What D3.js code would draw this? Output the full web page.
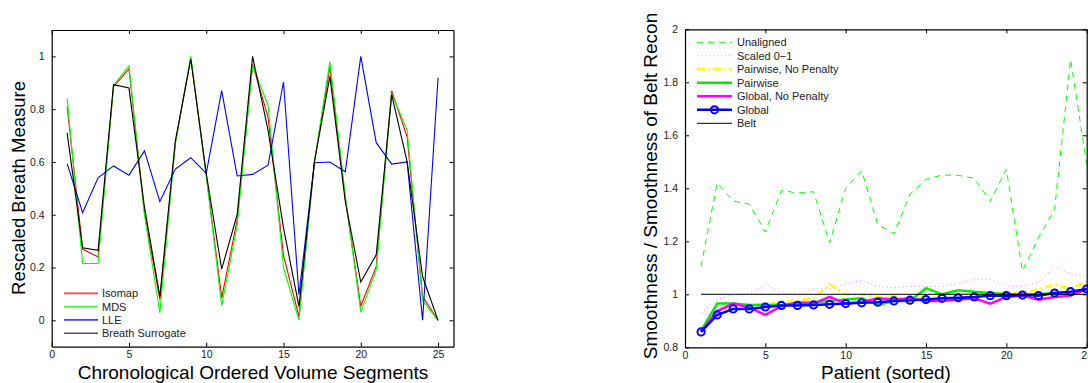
<!DOCTYPE html>
<html>
<head>
<meta charset="utf-8">
<script src="https://cdn.jsdelivr.net/npm/d3@7/dist/d3.min.js"></script>
<style>
  body { margin: 0; background: #fff; }
  svg { display: block; font-family: "Liberation Sans", Arial, sans-serif; }
</style>
</head>
<body>
<div id="chart"></div>
<script>
// Left panel: rescaled breath measure per volume segment
var segments = d3.range(1, 26);
var isomap = [0.81, 0.27, 0.24, 0.885, 0.953, 0.41, 0.078, 0.67, 0.995, 0.55, 0.085, 0.38, 0.97,
              0.77, 0.245, 0.015, 0.6, 0.96, 0.46, 0.053, 0.204, 0.87, 0.695, 0.09, 0.0];
var mds = [0.84, 0.215, 0.215, 0.89, 0.965, 0.40, 0.028, 0.67, 1.0, 0.55, 0.055, 0.36, 0.965,
           0.815, 0.2, 0.0, 0.6, 0.98, 0.47, 0.031, 0.19, 0.86, 0.72, 0.075, 0.0];
var lle = [0.594, 0.408, 0.54, 0.585, 0.55, 0.642, 0.45, 0.573, 0.616, 0.557, 0.87, 0.547, 0.553,
           0.588, 0.903, 0.097, 0.597, 0.6, 0.563, 1.0, 0.673, 0.592, 0.6, 0.0, 0.919];
var surrogate = [0.71, 0.275, 0.265, 0.893, 0.88, 0.43, 0.09, 0.68, 0.99, 0.557, 0.194, 0.40, 1.0,
                 0.72, 0.35, 0.053, 0.6, 0.924, 0.45, 0.145, 0.248, 0.855, 0.6, 0.166, 0.0];

// Right panel: smoothness ratio per patient
var patients = d3.range(1, 26);
var unaligned = [1.105, 1.42, 1.352, 1.34, 1.235, 1.392, 1.382, 1.387, 1.194, 1.40, 1.466, 1.263, 1.228,
                 1.377, 1.434, 1.45, 1.449, 1.438, 1.352, 1.472, 1.088, 1.213, 1.32, 1.886, 1.49];
var scaled01 = [0.93, 0.98, 1.0, 1.0, 1.038, 1.006, 0.997, 1.02, 1.02, 1.038, 1.053, 1.03, 1.025,
                1.03, 1.03, 1.028, 1.04, 1.057, 1.057, 1.03, 1.03, 1.044, 1.105, 1.078, 1.063];
var pairwiseNP = [0.86, 0.93, 0.96, 0.96, 0.965, 0.97, 0.975, 0.985, 1.038, 1.0, 1.0, 0.99, 0.995,
                  0.966, 1.0, 1.0, 1.0, 1.0, 1.0, 1.005, 1.005, 1.019, 1.038, 1.02, 1.05];
var pairwise = [0.862, 0.965, 0.965, 0.96, 0.96, 0.96, 0.965, 0.97, 0.975, 0.98, 0.985, 0.96, 0.975,
                0.975, 1.023, 1.0, 1.015, 1.01, 1.005, 1.0, 1.0, 1.0, 1.005, 1.0, 1.02];
var globalNP = [0.86, 0.937, 0.965, 0.95, 0.922, 0.955, 0.97, 0.965, 0.99, 0.965, 0.97, 0.985, 0.98,
                0.985, 0.975, 0.975, 0.98, 0.985, 0.965, 0.99, 0.995, 0.98, 0.99, 0.995, 1.02];
var globalAl = [0.858, 0.922, 0.945, 0.945, 0.952, 0.958, 0.958, 0.96, 0.962, 0.965, 0.968, 0.97, 0.975,
                0.978, 0.98, 0.985, 0.987, 0.99, 0.995, 0.995, 0.997, 0.995, 1.005, 1.01, 1.02];
var belt = patients.map(function() { return 1.0; });

var xTicks = [0, 5, 10, 15, 20, 25];
var leftYTicks = [0, 0.2, 0.4, 0.6, 0.8, 1];
var rightYTicks = [0.8, 1, 1.2, 1.4, 1.6, 1.8, 2];

var svg = d3.select("#chart").append("svg")
    .attr("width", 1088)
    .attr("height", 383);

// Draws a MATLAB style box with inward ticks on all sides
function drawFrame(g, x, y, xt, yt, fmt) {
    var x0 = x.range()[0], x1 = x.range()[1], y0 = y.range()[0], y1 = y.range()[1];
    g.append("g").attr("transform", "translate(0," + y0 + ")")
        .call(d3.axisBottom(x).tickValues(xt).tickSize(-4).tickPadding(4).tickSizeOuter(0));
    g.append("g").attr("transform", "translate(0," + y1 + ")")
        .call(d3.axisTop(x).tickValues(xt).tickSize(-4).tickFormat("").tickSizeOuter(0));
    g.append("g").attr("transform", "translate(" + x0 + ",0)")
        .call(d3.axisLeft(y).tickValues(yt).tickSize(-4).tickPadding(7).tickFormat(fmt).tickSizeOuter(0));
    g.append("g").attr("transform", "translate(" + x1 + ",0)")
        .call(d3.axisRight(y).tickValues(yt).tickSize(-4).tickFormat("").tickSizeOuter(0));
    g.selectAll(".domain").attr("stroke", "#000").attr("stroke-width", 1.2);
    g.selectAll(".tick line").attr("stroke", "#000");
    g.selectAll(".tick text").attr("font-size", 10.5).attr("fill", "#222")
        .attr("font-family", "Liberation Sans, Arial, sans-serif");
}

function fmtTick(d) { return d3.format("~g")(d); }

// ---------- left panel ----------
var xL = d3.scaleLinear().domain([0, 26]).range([51.7, 453.5]);
var yL = d3.scaleLinear().domain([-0.1, 1.1]).range([346.7, 30]);
var left = svg.append("g");

var lineL = d3.line().x(function(d, i) { return xL(segments[i]); }).y(function(d) { return yL(d); });
var leftSeries = [
    {name: "Isomap", values: isomap, color: "#ff0000"},
    {name: "MDS", values: mds, color: "#00ff00"},
    {name: "LLE", values: lle, color: "#0000ff"},
    {name: "Breath Surrogate", values: surrogate, color: "#000000"}
];
leftSeries.forEach(function(s) {
    left.append("path").datum(s.values)
        .attr("d", lineL)
        .attr("fill", "none")
        .attr("stroke", s.color)
        .attr("stroke-width", 1.1);
});
drawFrame(left, xL, yL, xTicks, leftYTicks, fmtTick);

// legend lower left
leftSeries.forEach(function(s, i) {
    var yy = 293.3 + i * 13.3;
    left.append("line").attr("x1", 64).attr("x2", 98).attr("y1", yy).attr("y2", yy)
        .attr("stroke", s.color).attr("stroke-width", i == 3 ? 1 : 1.8).attr("opacity", i == 3 ? 1 : 0.75);
    left.append("text").attr("x", 102).attr("y", yy + 3.9)
        .attr("font-size", 11).attr("fill", "#222").text(s.name);
});

left.append("text").attr("x", 253).attr("y", 379)
    .attr("text-anchor", "middle").attr("font-size", 19).text("Chronological Ordered Volume Segments");
left.append("text").attr("transform", "translate(25," + 188 + ") rotate(-90)")
    .attr("text-anchor", "middle").attr("font-size", 18.5).text("Rescaled Breath Measure");

// ---------- right panel ----------
var xR = d3.scaleLinear().domain([0, 25]).range([685, 1086.7]);
var yR = d3.scaleLinear().domain([0.8, 2]).range([347.3, 29.3]);
var right = svg.append("g");

var lineR = d3.line().x(function(d, i) { return xR(patients[i]); }).y(function(d) { return yR(d); });
var rightSeries = [
    {name: "Unaligned", values: unaligned, color: "#00ff00", width: 1, dash: "6,5"},
    {name: "Scaled 0\u22121", values: scaled01, color: "#ff77ff", width: 1, dash: "1,3"},
    {name: "Pairwise, No Penalty", values: pairwiseNP, color: "#ffff00", width: 2.5, dash: "8,3,2,3"},
    {name: "Pairwise", values: pairwise, color: "#00ee00", width: 2.5, dash: null},
    {name: "Global, No Penalty", values: globalNP, color: "#ff00ff", width: 2.5, dash: null},
    {name: "Global", values: globalAl, color: "#0000ff", width: 2.5, dash: null, marker: true},
    {name: "Belt", values: belt, color: "#000000", width: 1, dash: null}
];
rightSeries.forEach(function(s) {
    right.append("path").datum(s.values)
        .attr("d", lineR)
        .attr("fill", "none")
        .attr("stroke", s.color)
        .attr("stroke-width", s.width)
        .attr("stroke-dasharray", s.dash);
    if (s.marker) {
        right.selectAll("circle.m").data(s.values).enter().append("circle")
            .attr("cx", function(d, i) { return xR(patients[i]); })
            .attr("cy", function(d) { return yR(d); })
            .attr("r", 3.6)
            .attr("fill", "none")
            .attr("stroke", s.color)
            .attr("stroke-width", 2);
    }
});
drawFrame(right, xR, yR, xTicks, rightYTicks, fmtTick);

// legend upper left
rightSeries.forEach(function(s, i) {
    var yy = 42.3 + i * 13.5;
    right.append("line").attr("x1", 697).attr("x2", 732).attr("y1", yy).attr("y2", yy)
        .attr("stroke", s.color).attr("stroke-width", s.width).attr("stroke-dasharray", s.dash);
    if (s.marker) {
        right.append("circle").attr("cx", 714.5).attr("cy", yy).attr("r", 3.6)
            .attr("fill", "none").attr("stroke", s.color).attr("stroke-width", 2);
    }
    right.append("text").attr("x", 737).attr("y", yy + 3.9)
        .attr("font-size", 11).attr("fill", "#222").text(s.name);
});

right.append("text").attr("x", 886).attr("y", 379)
    .attr("text-anchor", "middle").attr("font-size", 19).text("Patient (sorted)");
right.append("text").attr("transform", "translate(657," + 186 + ") rotate(-90)")
    .attr("text-anchor", "middle").attr("font-size", 19).text("Smoothness / Smoothness of Belt Recon");
</script>
</body>
</html>
